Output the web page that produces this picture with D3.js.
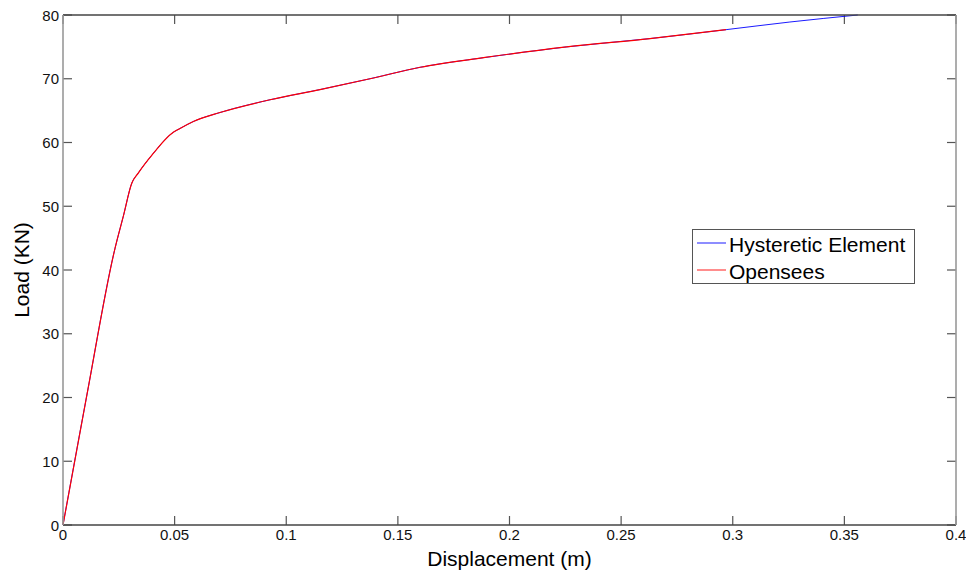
<!DOCTYPE html>
<html>
<head>
<meta charset="utf-8">
<script src="https://cdn.jsdelivr.net/npm/d3@7/dist/d3.min.js"></script>
<style>
  html, body { margin: 0; padding: 0; background: #fff; }
  svg { display: block; font-family: "Liberation Sans", Arial, sans-serif; }
</style>
</head>
<body>
<svg id="chart" width="966" height="571"></svg>
<script>
// Data
const hystDisp = [0, 0.0106, 0.0233, 0.027, 0.0308, 0.0337, 0.04, 0.0494, 0.0524, 0.0584, 0.0703, 0.0927, 0.1151, 0.1375, 0.16, 0.1883, 0.2256, 0.2629, 0.297, 0.3256, 0.356];
const hystLoad = [0, 20.2, 43.4, 48.4, 53.6, 55.2, 58.1, 61.6, 62.2, 63.3, 64.7, 66.7, 68.3, 70.0, 71.8, 73.3, 75.0, 76.3, 77.7, 78.9, 80.0];
const opsDisp = [0, 0.0106, 0.0233, 0.027, 0.0308, 0.0337, 0.04, 0.0494, 0.0524, 0.0584, 0.0703, 0.0927, 0.1151, 0.1375, 0.16, 0.1883, 0.2256, 0.2629, 0.297];
const opsLoad = [0, 20.2, 43.4, 48.4, 53.6, 55.2, 58.1, 61.6, 62.2, 63.3, 64.7, 66.7, 68.3, 70.0, 71.8, 73.3, 75.0, 76.3, 77.7];
const xTicks = [0, 0.05, 0.1, 0.15, 0.2, 0.25, 0.3, 0.35, 0.4];
const xTickLabels = ["0", "0.05", "0.1", "0.15", "0.2", "0.25", "0.3", "0.35", "0.4"];
const yTicks = [0, 10, 20, 30, 40, 50, 60, 70, 80];
const seriesNames = ["Hysteretic Element", "Opensees"];
const seriesColors = ["#0000ff", "#ff0000"];

const svg = d3.select("#chart");
const L = 63, R = 956, T = 15, B = 525;
const x = d3.scaleLinear().domain([0, 0.4]).range([L, R]);
const y = d3.scaleLinear().domain([0, 80]).range([B, T]);

const tickLen = 9;
const g = svg.append("g");

// Ticks (inward) on all four sides
xTicks.forEach(v => {
  g.append("line").attr("x1", x(v)).attr("x2", x(v)).attr("y1", B).attr("y2", B - tickLen)
    .attr("stroke", "#555").attr("stroke-width", 1.2);
  g.append("line").attr("x1", x(v)).attr("x2", x(v)).attr("y1", T).attr("y2", T + tickLen)
    .attr("stroke", "#555").attr("stroke-width", 1.2);
});
yTicks.forEach(v => {
  g.append("line").attr("x1", L).attr("x2", L + tickLen).attr("y1", y(v)).attr("y2", y(v))
    .attr("stroke", "#555").attr("stroke-width", 1.2);
  g.append("line").attr("x1", R).attr("x2", R - tickLen).attr("y1", y(v)).attr("y2", y(v))
    .attr("stroke", "#555").attr("stroke-width", 1.2);
});

// Lines
const line = d3.line().x(d => x(d[0])).y(d => y(d[1])).curve(d3.curveMonotoneX);
const hyst = hystDisp.map((d, i) => [d, hystLoad[i]]);
const ops = opsDisp.map((d, i) => [d, opsLoad[i]]);
g.append("path").datum(hyst).attr("d", line).attr("fill", "none")
  .attr("stroke", seriesColors[0]).attr("stroke-width", 0.9);
g.append("path").datum(ops).attr("d", line).attr("fill", "none")
  .attr("stroke", seriesColors[1]).attr("stroke-width", 1.2);

// Frame
g.append("line").attr("x1", L).attr("x2", R).attr("y1", T).attr("y2", T).attr("stroke", "#444").attr("stroke-width", 1.3);
g.append("line").attr("x1", L).attr("x2", R).attr("y1", B).attr("y2", B).attr("stroke", "#444").attr("stroke-width", 1.3);
g.append("line").attr("x1", L).attr("x2", L).attr("y1", T).attr("y2", B).attr("stroke", "#999").attr("stroke-width", 1.6);
g.append("line").attr("x1", R).attr("x2", R).attr("y1", T).attr("y2", B).attr("stroke", "#999").attr("stroke-width", 1.6);

// Tick labels
xTicks.forEach((v, i) => {
  g.append("text").attr("x", x(v)).attr("y", 540).attr("text-anchor", "middle")
    .attr("font-size", 15).attr("fill", "#111").text(xTickLabels[i]);
});
yTicks.forEach(v => {
  g.append("text").attr("x", 59).attr("y", y(v) + 5.5).attr("text-anchor", "end")
    .attr("font-size", 15).attr("fill", "#111").text(v);
});

// Axis labels
g.append("text").attr("x", (L + R) / 2).attr("y", 566).attr("text-anchor", "middle")
  .attr("font-size", 21).attr("fill", "#000").text("Displacement (m)");
g.append("text").attr("transform", `translate(29, ${(T + B) / 2}) rotate(-90)`)
  .attr("text-anchor", "middle").attr("font-size", 21).attr("fill", "#000").text("Load (KN)");

// Legend
const lg = svg.append("g");
lg.append("rect").attr("x", 692.5).attr("y", 229.5).attr("width", 222).attr("height", 54)
  .attr("fill", "#fff").attr("stroke", "#555").attr("stroke-width", 1);
const legY = [243, 270];
seriesNames.forEach((name, i) => {
  lg.append("line").attr("x1", 697).attr("x2", 726).attr("y1", legY[i]).attr("y2", legY[i])
    .attr("stroke", seriesColors[i]).attr("stroke-width", 1.2).attr("stroke-opacity", 0.75);
  lg.append("text").attr("x", 729).attr("y", legY[i] + 8.5).attr("font-size", 21)
    .attr("fill", "#000").text(name);
});
</script>
</body>
</html>
